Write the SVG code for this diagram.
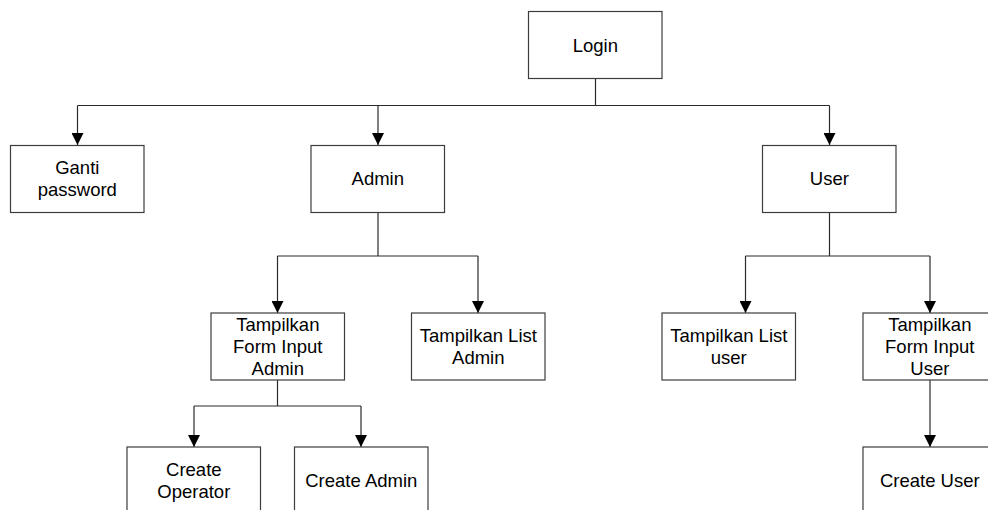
<svg xmlns="http://www.w3.org/2000/svg" width="988" height="510" viewBox="0 0 988 510">
<style>
.box{fill:#fff;stroke:#3c3c3c;stroke-width:1.2}
.lbl{font-family:"Liberation Sans",Arial,sans-serif;font-size:18.5px;fill:#000;text-anchor:middle}
.con{fill:none;stroke:#2a2a2a;stroke-width:1.2}
</style>
<defs>
<marker id="arr" viewBox="0 0 12 12" refX="12" refY="6" markerWidth="12" markerHeight="12" markerUnits="userSpaceOnUse" orient="auto">
<path d="M0,0 L12,6 L0,12 z" fill="#000"/>
</marker>
</defs>
<rect width="988" height="510" fill="#fff"/>
<g id="connectors">
<path class="con" d="M595.5,79 V105.5"/>
<path class="con" d="M77.5,105.5 H829.5"/>
<path class="con" d="M77.5,105.5 V145" marker-end="url(#arr)"/>
<path class="con" d="M378,105.5 V145" marker-end="url(#arr)"/>
<path class="con" d="M829.5,105.5 V145" marker-end="url(#arr)"/>
<path class="con" d="M378,212 V256"/>
<path class="con" d="M277.5,256 H478"/>
<path class="con" d="M277.5,256 V313" marker-end="url(#arr)"/>
<path class="con" d="M478,256 V313" marker-end="url(#arr)"/>
<path class="con" d="M277.5,380 V406"/>
<path class="con" d="M194,406 H361"/>
<path class="con" d="M194,406 V447" marker-end="url(#arr)"/>
<path class="con" d="M361,406 V447" marker-end="url(#arr)"/>
<path class="con" d="M829.5,212 V256"/>
<path class="con" d="M745.5,256 H930"/>
<path class="con" d="M745.5,256 V313" marker-end="url(#arr)"/>
<path class="con" d="M930,256 V313" marker-end="url(#arr)"/>
<path class="con" d="M930,380 V447" marker-end="url(#arr)"/>
</g>
<g id="login"><rect class="box" x="528.5" y="11.5" width="133.5" height="67"/><text class="lbl" x="595.3" y="51.8">Login</text></g>
<g id="ganti-password"><rect class="box" x="10.5" y="145.5" width="133.5" height="67"/><text class="lbl" x="77.3" y="174.2">Ganti</text><text class="lbl" x="77.3" y="196.2">password</text></g>
<g id="admin"><rect class="box" x="311" y="145.5" width="133.5" height="67"/><text class="lbl" x="377.8" y="185.2">Admin</text></g>
<g id="user"><rect class="box" x="762.5" y="145.5" width="133.5" height="67"/><text class="lbl" x="829.3" y="185.2">User</text></g>
<g id="form-input-admin"><rect class="box" x="211" y="313" width="133.5" height="67"/><text class="lbl" x="277.8" y="330.5">Tampilkan</text><text class="lbl" x="277.8" y="352.5">Form Input</text><text class="lbl" x="277.8" y="374.5">Admin</text></g>
<g id="list-admin"><rect class="box" x="411.5" y="313" width="133.5" height="67"/><text class="lbl" x="478.3" y="341.5">Tampilkan List</text><text class="lbl" x="478.3" y="363.5">Admin</text></g>
<g id="list-user"><rect class="box" x="662" y="313" width="133.5" height="67"/><text class="lbl" x="728.8" y="341.5">Tampilkan List</text><text class="lbl" x="728.8" y="363.5">user</text></g>
<g id="form-input-user"><rect class="box" x="863" y="313" width="133.5" height="67"/><text class="lbl" x="929.8" y="330.5">Tampilkan</text><text class="lbl" x="929.8" y="352.5">Form Input</text><text class="lbl" x="929.8" y="374.5">User</text></g>
<g id="create-operator"><rect class="box" x="127" y="447" width="133.5" height="67"/><text class="lbl" x="193.8" y="475.5">Create</text><text class="lbl" x="193.8" y="497.5">Operator</text></g>
<g id="create-admin"><rect class="box" x="294.5" y="447" width="133.5" height="67"/><text class="lbl" x="361.3" y="486.5">Create Admin</text></g>
<g id="create-user"><rect class="box" x="863" y="447" width="133.5" height="67"/><text class="lbl" x="929.8" y="486.5">Create User</text></g>
</svg>
